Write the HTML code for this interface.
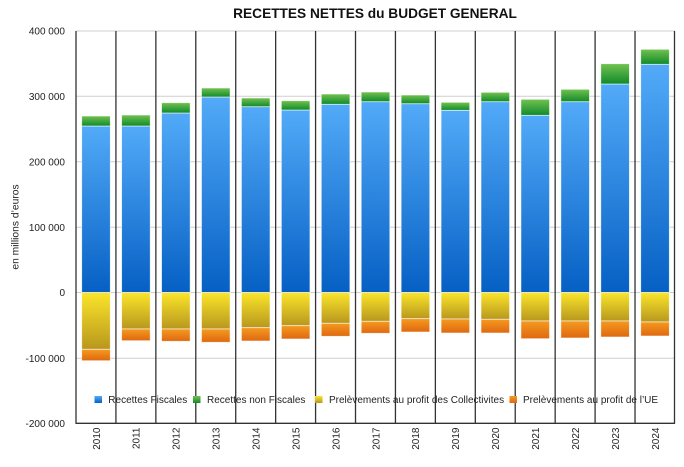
<!DOCTYPE html>
<html><head><meta charset="utf-8"><style>
html,body{margin:0;padding:0;background:#fff;}
svg{display:block;font-family:"Liberation Sans",Arial,sans-serif;}
</style></head><body>
<svg width="684" height="467" viewBox="0 0 684 467" xmlns="http://www.w3.org/2000/svg">
<defs>
<linearGradient id="gb" x1="0" y1="0" x2="0" y2="1"><stop offset="0" stop-color="#52aaf8"/><stop offset="1" stop-color="#0660c4"/></linearGradient>
<linearGradient id="gg" x1="0" y1="0" x2="0" y2="1"><stop offset="0" stop-color="#72c250"/><stop offset="1" stop-color="#108a2a"/></linearGradient>
<linearGradient id="gy" x1="0" y1="0" x2="0" y2="1"><stop offset="0" stop-color="#fbe52a"/><stop offset="1" stop-color="#b8971e"/></linearGradient>
<linearGradient id="go" x1="0" y1="0" x2="0" y2="1"><stop offset="0" stop-color="#f59a20"/><stop offset="1" stop-color="#df6810"/></linearGradient>
</defs>
<text x="375" y="18" text-anchor="middle" font-size="13.7" font-weight="bold" fill="#111">RECETTES NETTES du BUDGET GENERAL</text>
<g stroke="#cfcfcf" stroke-width="1">
<line x1="76" y1="31" x2="675" y2="31"/>
<line x1="76" y1="96.3" x2="675" y2="96.3"/>
<line x1="76" y1="161.8" x2="675" y2="161.8"/>
<line x1="76" y1="227.3" x2="675" y2="227.3"/>
<line x1="76" y1="292.5" x2="675" y2="292.5"/>
<line x1="76" y1="358.3" x2="675" y2="358.3"/>
</g>
<g font-size="10" fill="#222" text-anchor="end">
<text x="65" y="34.5">400 000</text>
<text x="65" y="99.8">300 000</text>
<text x="65" y="165.3">200 000</text>
<text x="65" y="230.8">100 000</text>
<text x="65" y="296">0</text>
<text x="65" y="361.8">-100 000</text>
<text x="65" y="427">-200 000</text>
</g>
<text transform="translate(18.5,227) rotate(-90)" text-anchor="middle" font-size="10.3" fill="#222">en millions d’euros</text>
<g id="bars" stroke="#ffffff" stroke-opacity="0.7" stroke-width="0.8">
</g>
<g stroke="#333" stroke-width="1.3" fill="none" id="seps">
</g>
<g font-size="10" fill="#222" id="xl"></g>
<g font-size="10" fill="#222">
<rect x="94.5" y="396" width="7.5" height="7" fill="url(#gb)"/>
<text x="108.3" y="402.8">Recettes Fiscales</text>
<rect x="193" y="396" width="7.5" height="7" fill="url(#gg)"/>
<text x="207" y="402.8">Recettes non Fiscales</text>
<rect x="315" y="396" width="7.5" height="7" fill="url(#gy)"/>
<text x="329" y="402.8">Prelèvements au profit des Collectivites</text>
<rect x="509.5" y="396" width="7.5" height="7" fill="url(#go)"/>
<text x="523" y="402.8">Prelèvements au profit de l’UE</text>
</g>
<script>
var d=[[2010,116,126,349.3,360.7],[2011,115,126,329,340.7],[2012,102.7,113,329,341.3],[2013,88,97,329,342.3],[2014,98,106.7,327.7,341],[2015,100.7,110,325.7,339],[2016,94,104.3,323.3,336.3],[2017,92,101.7,321.3,333.3],[2018,95,103.7,318.7,332],[2019,102.3,110.3,319,333],[2020,92.3,101.7,319.3,333],[2021,99.3,115.3,321,338.7],[2022,89.3,101.7,321,338],[2023,63.7,84,321,337],[2024,49.3,64.3,322,336]];
var ns="http://www.w3.org/2000/svg",z=292.5,cw=39.93;
function el(p,t,a,tx){var e=document.createElementNS(ns,t);for(var k in a)e.setAttribute(k,a[k]);if(tx)e.textContent=tx;p.appendChild(e);return e;}
var B=document.getElementById('bars'),S=document.getElementById('seps'),X=document.getElementById('xl');
d.forEach(function(r,i){var x=76+i*cw+5.7,w=28.6;
el(B,'rect',{x:x,y:r[2],width:w,height:z-r[2],fill:'url(#gb)'});
el(B,'rect',{x:x,y:r[1],width:w,height:r[2]-r[1],fill:'url(#gg)'});
el(B,'rect',{x:x,y:z,width:w,height:r[3]-z,fill:'url(#gy)'});
el(B,'rect',{x:x,y:r[3],width:w,height:r[4]-r[3],fill:'url(#go)'});
var cx=76+i*cw+cw/2;
el(X,'text',{transform:'translate('+(cx+3.8)+',427.5) rotate(-90)','text-anchor':'end'},String(r[0]));
});
for(var i=1;i<15;i++){var x=76+i*cw;el(S,'line',{x1:x,y1:31,x2:x,y2:423.5});}
el(S,'line',{x1:76,y1:31,x2:76,y2:423.5});
el(S,'line',{x1:674.5,y1:31,x2:674.5,y2:423.5});
el(S,'line',{x1:75.5,y1:423.3,x2:675,y2:423.3});
</script>
</svg>
</body></html>
